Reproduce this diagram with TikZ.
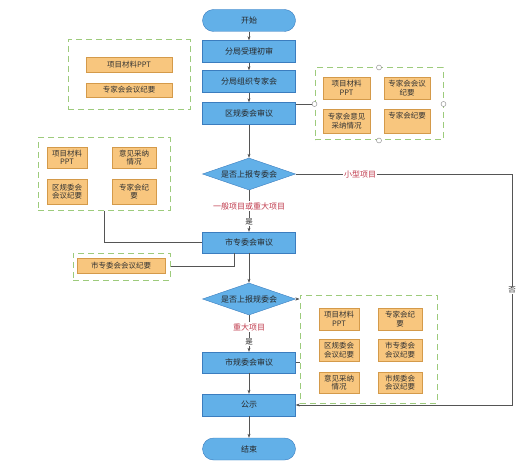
\documentclass[tikz,border=0pt]{standalone}
\usepackage{fontspec}
\setmainfont{Noto Sans CJK SC}
\usetikzlibrary{shapes.geometric,arrows.meta}
\definecolor{mainfill}{HTML}{62B0E8}
\definecolor{mainline}{HTML}{3B7DBF}
\definecolor{orfill}{HTML}{F8C67E}
\definecolor{orline}{HTML}{D49A4A}
\definecolor{grn}{HTML}{9DCB7C}
\definecolor{lbl}{HTML}{C0394B}
\definecolor{conn}{HTML}{555555}
\begin{document}
\begin{tikzpicture}[x=1pt,y=-1pt,
 proc/.style={draw=mainline, fill=mainfill, minimum width=93pt, minimum height=22pt, inner sep=0pt, font=\fontsize{8}{9}\selectfont, text=black!85},
 term/.style={proc, rounded corners=11pt},
 dec/.style={diamond, draw=mainline, fill=mainfill, minimum width=93pt, minimum height=32pt, inner sep=0pt, aspect=3, font=\fontsize{8}{9}\selectfont, text=black!85},
 doc/.style={draw=orline, fill=orfill, inner sep=0pt, align=center, font=\fontsize{7.5}{8.6}\selectfont, text=black!80},
 grp/.style={draw=grn, dash pattern=on 6pt off 4pt, line width=1pt, fill=white, inner sep=0pt},
 arr/.style={draw=conn, -{Stealth[length=4pt,width=3pt]}},
 ln/.style={draw=conn},
 elbl/.style={fill=white, inner sep=1pt, font=\fontsize{8}{9}\selectfont, text=lbl},
 ylbl/.style={fill=white, inner sep=1pt, font=\fontsize{7.5}{9}\selectfont, text=black!85},
 knob/.style={circle, draw=gray, fill=white, minimum size=5pt, inner sep=0pt}]
\useasboundingbox (0,0) rectangle (532,473);
% main column
\node[term] (start) at (249,20.5) {开始};
\node[proc] (fs1) at (249,51.5) {分局受理初审};
\node[proc] (fs2) at (249,81.5) {分局组织专家会};
\node[proc] (qgw) at (249,113.5) {区规委会审议};
\node[dec] (d1) at (249,174) {是否上报专委会};
\node[proc, minimum height=21pt] (szw) at (249,242.5) {市专委会审议};
\node[dec] (d2) at (249,299) {是否上报规委会};
\node[proc, minimum height=21pt] (sgw) at (249,362.5) {市规委会审议};
\node[proc] (gs) at (249,405) {公示};
\node[term] (end) at (249,449) {结束};
% group 1 (left top)
\node[grp, minimum width=122pt, minimum height=70pt] (g1) at (129,75) {};
\node[doc, minimum width=86pt, minimum height=15pt] (g1a) at (129,64.5) {项目材料PPT};
\node[doc, minimum width=86pt, minimum height=14pt] (g1b) at (129,90) {专家会会议纪要};
% group 2 (right top)
\node[grp, minimum width=128pt, minimum height=72pt] (g2) at (379,104) {};
\node[doc, minimum width=47pt, minimum height=22pt] (g2a) at (346.5,88) {项目材料\\PPT};
\node[doc, minimum width=46pt, minimum height=22pt] (g2b) at (407,88) {专家会会议\\纪要};
\node[doc, minimum width=47pt, minimum height=24pt] (g2c) at (346.5,121) {专家会意见\\采纳情况};
\node[doc, minimum width=46pt, minimum height=24pt] (g2d) at (407,121) {专家会纪要\\\strut};
% group 3 (left middle)
\node[grp, minimum width=132pt, minimum height=72pt] (g3) at (104,174) {};
\node[doc, minimum width=40pt, minimum height=21pt] (g3a) at (67,157.5) {项目材料\\PPT};
\node[doc, minimum width=44pt, minimum height=21pt] (g3b) at (134,157.5) {意见采纳\\情况};
\node[doc, minimum width=40pt, minimum height=25pt] (g3c) at (67,191.5) {区规委会\\会议纪要};
\node[doc, minimum width=44pt, minimum height=25pt] (g3d) at (134,191.5) {专家会纪\\要};
% group 4 (city committee minutes)
\node[grp, minimum width=97pt, minimum height=27pt] (g4) at (121.5,266.5) {};
\node[doc, minimum width=88pt, minimum height=15pt] (g4a) at (121,265.5) {市专委会会议纪要};
% group 5 (right bottom)
\node[grp, minimum width=137pt, minimum height=108pt] (g5) at (368.5,349) {};
\node[doc, minimum width=40pt, minimum height=22pt] (g5a) at (339,319) {项目材料\\PPT};
\node[doc, minimum width=44pt, minimum height=22pt] (g5b) at (400,319) {专家会纪\\要};
\node[doc, minimum width=40pt, minimum height=22pt] (g5c) at (339,350) {区规委会\\会议纪要};
\node[doc, minimum width=44pt, minimum height=22pt] (g5d) at (400,350) {市专委会\\会议纪要};
\node[doc, minimum width=40pt, minimum height=21pt] (g5e) at (339,382.5) {意见采纳\\情况};
\node[doc, minimum width=44pt, minimum height=21pt] (g5f) at (400,382.5) {市规委会\\会议纪要};
% main flow
\draw[arr] (start) -- (fs1);
\draw[arr] (fs1) -- (fs2);
\draw[arr] (fs2) -- (qgw);
\draw[arr] (qgw) -- (d1);
\draw[arr] (d1) -- (szw);
\node[elbl] (l1) at (249,206) {一般项目或重大项目};
\node[ylbl] (l2) at (249,222) {是};
\draw[arr] (szw) -- (d2);
\draw[arr] (d2) -- (sgw);
\node[elbl] (l3) at (249,327) {重大项目};
\node[ylbl] (l4) at (249,342) {是};
\draw[arr] (sgw) -- (gs);
\draw[arr] (gs) -- (end);
% no branch
\coordinate (r1) at (512,174);
\coordinate (r2) at (512,405);
\draw[arr] (d1.east) -- (r1) -- (r2) -- (gs.east);
\node[elbl] (l5) at (360,174) {小型项目};
\node[ylbl] (l6) at (512,290) {否};
% group connections
\draw[ln] (qgw.east |- g2.west) -- (g2.west);
\node[knob] (k1) at (g2.north) {};
\node[knob] (k2) at (g2.south) {};
\node[knob] (k3) at (g2.west) {};
\node[knob] (k4) at (g2.east) {};
\draw[ln] (g3.south) -- (g3.south |- szw.west) -- (szw.west);
\coordinate (c1) at (234,266.5);
\draw[ln] (c1 |- szw.south) -- (c1) -- (g4.east);
\draw[arr] (d2.east) -- (g5.west |- d2.east);
\draw[ln] (sgw.east) -- (g5.west |- sgw.east);
\end{tikzpicture}
\end{document}
